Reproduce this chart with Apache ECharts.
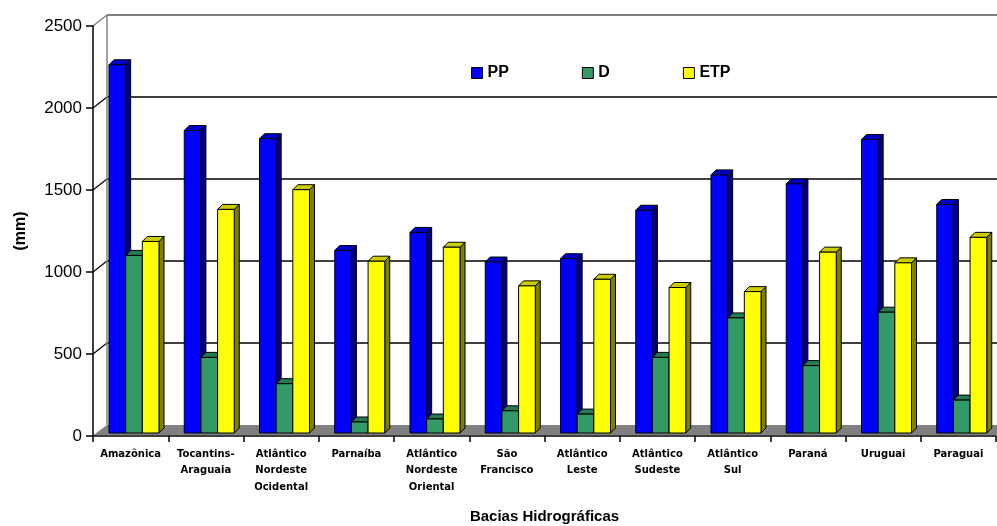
<!DOCTYPE html>
<html>
<head>
<meta charset="utf-8">
<script src="https://cdn.jsdelivr.net/npm/echarts@6/dist/echarts.min.js"></script>
<style>
  html, body { margin: 0; padding: 0; background: #ffffff; }
  #chart { width: 997px; height: 526px; }
</style>
</head>
<body>
<div id="chart"></div>
<script>
// Bacias hidrográficas: precipitação (PP), deflúvio (D) e evapotranspiração (ETP), em mm
const categories = [
  'Amazônica', 'Tocantins-\nAraguaia', 'Atlântico\nNordeste\nOcidental', 'Parnaíba',
  'Atlântico\nNordeste\nOriental', 'São\nFrancisco', 'Atlântico\nLeste', 'Atlântico\nSudeste',
  'Atlântico\nSul', 'Paraná', 'Uruguai', 'Paraguai'
];
const seriesNames = ['PP', 'D', 'ETP'];
const ppValues  = [2240, 1840, 1790, 1110, 1220, 1040, 1060, 1355, 1570, 1515, 1785, 1390];
const dValues   = [1080,  460,  300,   67,   85,  135,  115,  460,  700,  410,  735,  200];
const etpValues = [1165, 1360, 1480, 1045, 1130,  895,  935,  885,  860, 1100, 1035, 1190];
const yTicks = [0, 500, 1000, 1500, 2000, 2500];

// face colours of the extruded columns: front, right side, top cap
const palette = [
  { front: '#0000FF', side: '#000080', top: '#0000C8' },
  { front: '#339966', side: '#1A4D33', top: '#287A52' },
  { front: '#FFFF00', side: '#808000', top: '#CCCC00' }
];
const seriesValues = [ppValues, dValues, etpValues];

// depth of the walls and of each column in screen pixels
const WALL_DX = 14, WALL_DY = -11;
const BAR_DX = 5, BAR_DY = -5;

const chart = echarts.init(document.getElementById('chart'), null, { renderer: 'canvas' });

// back wall, left wall, floor and gridlines, placed from the front axis scale
function renderWalls(params, api) {
  const band = api.size([1, 0])[0];
  const x0 = api.coord([0, 0])[0] - band / 2;
  const x1 = x0 + band * categories.length;
  const yF = v => api.coord([0, v])[1];
  const yMax = yTicks[yTicks.length - 1];
  const children = [];
  // left wall
  children.push({
    type: 'polygon',
    shape: { points: [[x0 + 0.5, yF(yMax)], [x0 + WALL_DX, yF(yMax) + WALL_DY], [x0 + WALL_DX, yF(0) + WALL_DY], [x0 + 0.5, yF(0)]] },
    style: { fill: '#ffffff' }
  });
  // floor
  children.push({
    type: 'polygon',
    shape: { points: [[x0 + 0.5, yF(0) - 1], [x1 + 30, yF(0) - 1], [x1 + 30 + WALL_DX, yF(0) + WALL_DY], [x0 + WALL_DX, yF(0) + WALL_DY]] },
    style: { fill: '#808080' }
  });
  // gridlines on the back wall and the left wall
  yTicks.forEach(v => {
    if (v === 0) return;
    const last = v === yMax;
    const col = last ? '#808080' : '#000000';
    children.push({
      type: 'line',
      shape: { x1: x0 + WALL_DX, y1: yF(v) + WALL_DY, x2: x1 + 40, y2: yF(v) + WALL_DY },
      style: { stroke: col, lineWidth: last ? 2 : 1.3 }
    });
    children.push({
      type: 'line',
      shape: { x1: x0, y1: yF(v), x2: x0 + WALL_DX, y2: yF(v) + WALL_DY },
      style: { stroke: col, lineWidth: last ? 1.5 : 1.2 }
    });
  });
  // back edge of the left wall
  children.push({
    type: 'line',
    shape: { x1: x0 + WALL_DX, y1: yF(yMax) + WALL_DY, x2: x0 + WALL_DX, y2: yF(0) + WALL_DY },
    style: { stroke: '#808080', lineWidth: 1.5 }
  });
  return { type: 'group', children };
}

// one extruded column per category for series k
function barRenderer(k) {
  const face = palette[k];
  return function (params, api) {
    const i = api.value(0), v = api.value(1);
    const band = api.size([1, 0])[0];
    const top = api.coord([i, v]);
    const base = api.coord([i, 0]);
    const w = band * 0.2215;
    const x = top[0] - band * 0.2874 + k * w;
    const yt = top[1], yb = base[1];
    return {
      type: 'group',
      children: [
        { type: 'polygon', shape: { points: [[x + w, yb], [x + w + BAR_DX, yb + BAR_DY], [x + w + BAR_DX, yt + BAR_DY], [x + w, yt]] },
          style: { fill: face.side, stroke: '#000', lineWidth: 1 } },
        { type: 'polygon', shape: { points: [[x, yt], [x + w, yt], [x + w + BAR_DX, yt + BAR_DY], [x + BAR_DX, yt + BAR_DY]] },
          style: { fill: face.top, stroke: '#000', lineWidth: 1 } },
        { type: 'rect', shape: { x: x, y: yt, width: w, height: yb - yt },
          style: { fill: face.front, stroke: '#000', lineWidth: 1 } }
      ]
    };
  };
}

const FONT = '"Liberation Sans", Arial, sans-serif';

const option = {
  animation: false,
  backgroundColor: '#ffffff',
  legend: {
    left: 471, top: 65, padding: 0,
    itemWidth: 11, itemHeight: 11, itemGap: 73,
    icon: 'rect',
    textStyle: { fontFamily: FONT, fontSize: 16, fontWeight: 'bold', color: '#000' },
    data: seriesNames.map((n, k) => ({ name: n, itemStyle: { color: palette[k].front, borderColor: '#000', borderWidth: 1 } }))
  },
  grid: [
    // front plane: axes, labels, walls
    { left: 93, right: 1, top: 26, bottom: 90, containLabel: false, outerBoundsMode: 'none' },
    // column plane, slightly behind the front edge
    { left: 93, right: 1, top: 22, bottom: 93, containLabel: false, outerBoundsMode: 'none' }
  ],
  xAxis: [
    {
      gridIndex: 0, type: 'category', data: categories, z: 5,
      name: 'Bacias Hidrográficas', nameLocation: 'middle', nameGap: 73,
      nameTextStyle: { fontFamily: FONT, fontSize: 15, fontWeight: 'bold', color: '#000' },
      axisLine: { lineStyle: { color: '#000', width: 1.5 } },
      axisTick: { show: true, length: 6, lineStyle: { color: '#000', width: 1.5 } },
      axisLabel: { interval: 0, margin: 10, fontFamily: '"DejaVu Sans", sans-serif', fontSize: 10, fontWeight: 'bold', color: '#000', lineHeight: 16.5 },
      splitLine: { show: false }
    },
    { gridIndex: 1, type: 'category', data: categories, show: false }
  ],
  yAxis: [
    {
      gridIndex: 0, type: 'value', min: 0, max: 2500, interval: 500, z: 5,
      name: '(mm)', nameLocation: 'middle', nameGap: 64, nameRotate: 90,
      nameTextStyle: { fontFamily: FONT, fontSize: 16, fontWeight: 'bold', color: '#000' },
      axisLine: { show: true, lineStyle: { color: '#000', width: 1.5 } },
      axisTick: { show: true, length: 7, lineStyle: { color: '#000', width: 1.5 } },
      axisLabel: { margin: 11, fontFamily: FONT, fontSize: 17, color: '#000', formatter: v => String(v) },
      splitLine: { show: false }
    },
    { gridIndex: 1, type: 'value', min: 0, max: 2500, interval: 500, show: false, splitLine: { show: false } }
  ],
  series: [
    {
      type: 'custom', name: 'walls', xAxisIndex: 0, yAxisIndex: 0, z: 1, silent: true,
      data: [[0, 0]], renderItem: renderWalls
    }
  ].concat(seriesNames.map((n, k) => ({
    type: 'custom', name: n, xAxisIndex: 1, yAxisIndex: 1, z: 2,
    itemStyle: { color: palette[k].front, borderColor: '#000', borderWidth: 1 },
    encode: { x: 0, y: 1 },
    data: seriesValues[k].map((v, i) => [i, v]),
    renderItem: barRenderer(k)
  })))
};

chart.setOption(option);
</script>
</body>
</html>
